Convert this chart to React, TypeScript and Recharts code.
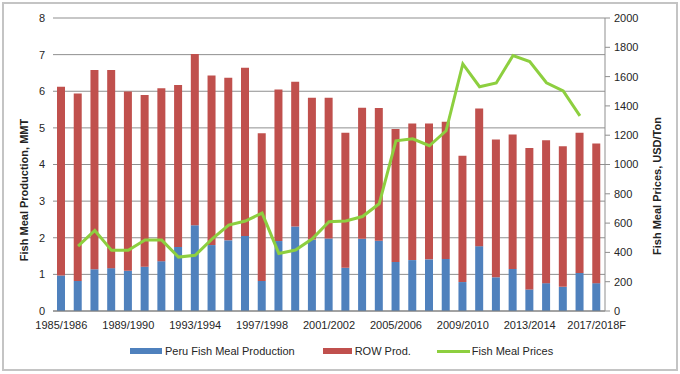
import { ComposedChart, Bar, Line, XAxis, YAxis, CartesianGrid } from 'recharts';

const seasons = [
  '1985/1986', '1986/1987', '1987/1988', '1988/1989', '1989/1990', '1990/1991', '1991/1992', '1992/1993',
  '1993/1994', '1994/1995', '1995/1996', '1996/1997', '1997/1998', '1998/1999', '1999/2000', '2000/2001',
  '2001/2002', '2002/2003', '2003/2004', '2004/2005', '2005/2006', '2006/2007', '2007/2008', '2008/2009',
  '2009/2010', '2010/2011', '2011/2012', '2012/2013', '2013/2014', '2014/2015', '2015/2016', '2016/2017',
  '2017/2018F',
];

const peruProd = [
  0.97, 0.82, 1.14, 1.17, 1.1, 1.21, 1.36, 1.75, 2.34, 1.8, 1.93, 2.05, 0.82, 1.91, 2.31, 1.95, 1.98,
  1.18, 1.97, 1.92, 1.34, 1.39, 1.41, 1.42, 0.79, 1.77, 0.92, 1.15, 0.59, 0.76, 0.66, 1.04, 0.76,
];

const rowProd = [
  5.15, 5.12, 5.44, 5.41, 4.89, 4.69, 4.72, 4.42, 4.68, 4.63, 4.44, 4.59, 4.03, 4.14, 3.95, 3.87, 3.84,
  3.69, 3.58, 3.62, 3.63, 3.73, 3.71, 3.75, 3.45, 3.76, 3.76, 3.67, 3.86, 3.9, 3.84, 3.83, 3.81,
];

const prices = [
  null, 443, 550, 414, 414, 484, 484, 368, 380, 490, 586, 614, 668, 393, 416, 493, 609,
  614, 645, 732, 1162, 1175, 1128, 1230, 1687, 1531, 1556, 1744, 1703, 1558, 1502, 1332, null,
];

const leftTicks = [0, 1, 2, 3, 4, 5, 6, 7, 8];
const rightTicks = [0, 200, 400, 600, 800, 1000, 1200, 1400, 1600, 1800, 2000];

const data = seasons.map((s, i) => ({ season: s, peru: peruProd[i], row: rowProd[i], price: prices[i] }));

const BLUE = '#4F81BD';
const RED = '#C0504D';
const GREEN = '#8DCF3F';
const FONT = '"Liberation Sans", Arial, sans-serif';
const tickStyle = { fontSize: 11, fill: '#262626', fontFamily: FONT };

function AxisTitle({ x, y, text }: { x: number; y: number; text: string }) {
  return (
    <text x={x} y={y} transform={`rotate(-90 ${x} ${y})`} textAnchor="middle" dominantBaseline="central"
      style={{ fontSize: 11, fontWeight: 'bold', fill: '#222', fontFamily: FONT }}>
      {text}
    </text>
  );
}

export default function App() {
  return (
    <div style={{ position: 'absolute', left: 0, top: 0, width: 680, height: 374, background: '#fff', fontFamily: FONT }}>
      <div style={{ position: 'absolute', left: 2, top: 2, width: 676, height: 369, boxSizing: 'border-box', border: '2px solid #c4c4c4' }} />
      <ComposedChart width={680} height={374} data={data} margin={{ top: 18, right: 0, bottom: 33, left: 0 }}>
        <CartesianGrid vertical={false} stroke="#8f8f8f" yAxisId="left" />
        <XAxis dataKey="season" interval={3} tickLine={false} axisLine={{ stroke: '#7f7f7f' }} height={30}
          tick={tickStyle} tickMargin={4} />
        <YAxis yAxisId="left" domain={[0, 8]} ticks={leftTicks} width={53} tickLine={false} axisLine={false}
          tick={tickStyle} label={{ content: () => <AxisTitle x={24} y={190} text="Fish Meal Production, MMT" /> }} />
        <YAxis yAxisId="right" orientation="right" domain={[0, 2000]} ticks={rightTicks} width={75}
          axisLine={{ stroke: '#8f8f8f' }} tickLine={{ stroke: '#8f8f8f' }} tickSize={5} tickMargin={4}
          tick={{ ...tickStyle, textAnchor: 'start' }}
          label={{ content: () => <AxisTitle x={657} y={186} text="Fish Meal Prices, USD/Ton" /> }} />
        <Bar yAxisId="left" dataKey="peru" stackId="a" fill={BLUE} barSize={8} isAnimationActive={false} />
        <Bar yAxisId="left" dataKey="row" stackId="a" fill={RED} barSize={8} isAnimationActive={false} />
        <Line yAxisId="right" dataKey="price" stroke={GREEN} strokeWidth={3} dot={false} type="linear"
          isAnimationActive={false} />
      </ComposedChart>
      <div style={{ position: 'absolute', top: 343, left: 0, width: 680, height: 16, display: 'flex', justifyContent: 'flex-start',
        alignItems: 'center', fontSize: 11, color: '#262626', paddingLeft: 130, boxSizing: 'border-box', whiteSpace: 'nowrap' }}>
        <span style={{ display: 'inline-block', width: 32, height: 6, background: BLUE, marginRight: 3 }} />
        <span style={{ marginRight: 28 }}>Peru Fish Meal Production</span>
        <span style={{ display: 'inline-block', width: 29, height: 6, background: RED, marginRight: 3 }} />
        <span style={{ marginRight: 26 }}>ROW Prod.</span>
        <span style={{ display: 'inline-block', width: 33, height: 3, background: GREEN, marginRight: 2 }} />
        <span>Fish Meal Prices</span>
      </div>
    </div>
  );
}
